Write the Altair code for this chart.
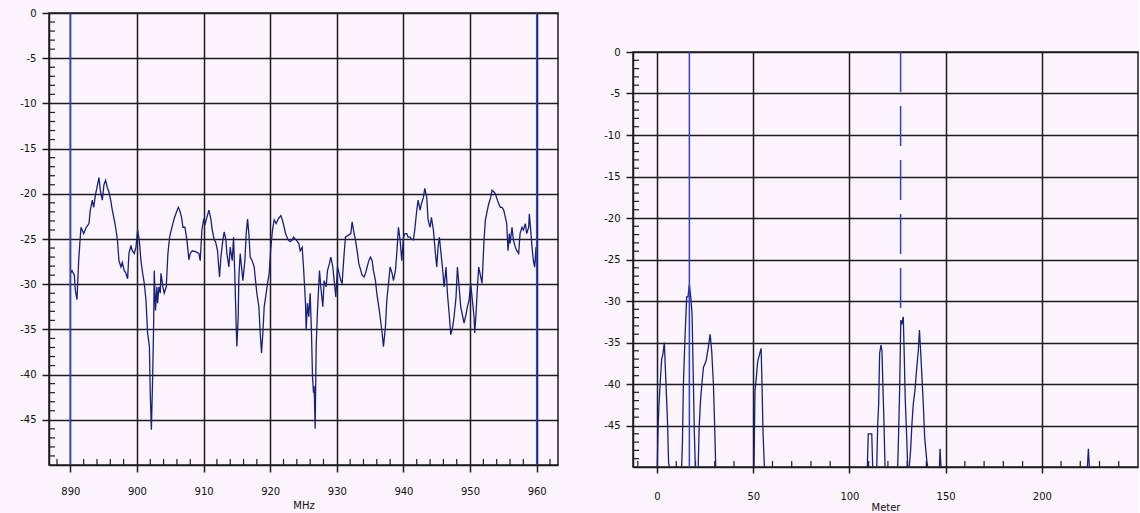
import altair as alt
import pandas as pd

# ---------------- data: left panel (MHz spectrum) ----------------
mhz = [890.0, 890.25, 890.6, 890.76, 891.0, 891.26, 891.4, 891.6, 892.0, 892.4, 892.8, 893.0, 893.3, 893.5,
       893.8, 894.0, 894.3, 894.5, 894.8, 895.05, 895.3, 895.55, 895.8, 896.06, 896.3, 896.6, 896.8, 897.07,
       897.3, 897.6, 897.8, 898.1, 898.3, 898.6, 898.8, 899.1, 899.3, 899.6, 899.85, 900.1, 900.35, 900.6,
       900.86, 901.1, 901.36, 901.6, 901.87, 902.0, 902.17, 902.37, 902.5, 902.6, 902.78, 903.0, 903.1, 903.3,
       903.5, 903.6, 903.9, 904.1, 904.4, 904.65, 904.9, 905.15, 905.4, 905.65, 906.2, 906.4, 906.7, 906.9,
       907.2, 907.5, 907.8, 908.0, 908.3, 908.8, 909.3, 909.5, 909.75, 910.0, 910.25, 910.5, 910.8, 911.1,
       911.3, 911.6, 911.8, 912.1, 912.2, 912.4, 912.6, 912.9, 913.1, 913.35, 913.5, 913.8, 914.0, 914.3,
       914.5, 914.7, 914.9, 915.0, 915.2, 915.3, 915.5, 915.7, 915.9, 916.2, 916.4, 916.6, 916.8, 917.0,
       917.3, 917.6, 917.8, 918.0, 918.3, 918.5, 918.7, 918.9, 919.1, 919.4, 919.6, 919.85, 920.1, 920.35,
       920.6, 920.9, 921.2, 921.6, 921.8, 922.1, 922.3, 922.7, 923.0, 923.3, 923.5, 923.9, 924.3, 924.5,
       924.8, 925.0, 925.3, 925.4, 925.6, 925.8, 926.0, 926.2, 926.35, 926.5, 926.6, 926.75, 926.9, 927.1,
       927.4, 927.6, 927.9, 928.1, 928.4, 928.6, 928.9, 929.1, 929.4, 929.6, 929.85, 930.1, 930.35, 930.6,
       930.8, 931.1, 931.3, 931.7, 932.1, 932.3, 932.6, 932.8, 933.1, 933.3, 933.6, 933.8, 934.1, 934.3,
       934.55, 934.8, 935.05, 935.3, 935.5, 935.8, 936.0, 936.3, 936.5, 936.8, 937.0, 937.3, 937.5, 937.8,
       938.0, 938.3, 938.5, 938.8, 939.0, 939.25, 939.5, 939.75, 940.0, 940.25, 940.5, 940.7, 941.0, 941.2,
       941.5, 941.7, 942.0, 942.2, 942.5, 942.7, 943.0, 943.2, 943.5, 943.7, 944.0, 944.2, 944.5, 944.75,
       945.0, 945.2, 945.4, 945.6, 945.9, 946.1, 946.4, 946.6, 946.9, 947.1, 947.4, 947.6, 947.9, 948.1,
       948.4, 948.6, 948.9, 949.1, 949.4, 949.6, 949.85, 950.1, 950.35, 950.6, 950.7, 950.9, 951.1, 951.3,
       951.6, 951.8, 952.1, 952.3, 952.6, 952.8, 953.1, 953.3, 953.6, 953.8, 954.1, 954.3, 954.55, 954.8,
       955.05, 955.3, 955.5, 955.7, 955.9, 956.0, 956.3, 956.5, 956.8, 957.0, 957.3, 957.5, 957.8, 958.0,
       958.3, 958.5, 958.8, 958.9, 959.1, 959.3, 959.5, 959.7, 959.9, 960.0]
mhz_db = [-28.8, -28.5, -29.0, -30.7, -31.7, -27.3, -25.8, -23.7, -24.4, -23.7, -23.3, -21.8, -20.7, -21.5,
          -20.0, -19.3, -18.2, -19.6, -20.7, -19.0, -18.5, -19.3, -19.8, -20.7, -21.8, -22.9, -23.7, -25.1,
          -27.4, -28.1, -27.6, -28.5, -28.7, -29.4, -26.6, -25.7, -26.3, -26.6, -25.9, -24.0, -25.1, -27.4,
          -28.8, -29.9, -31.8, -35.4, -36.9, -42.1, -46.1, -39.9, -34.7, -28.5, -32.9, -30.3, -32.1, -30.3,
          -31.0, -28.8, -30.3, -31.0, -30.3, -26.6, -24.8, -24.0, -23.3, -22.6, -21.5, -21.8, -22.6, -23.7,
          -23.7, -25.1, -27.3, -26.6, -26.3, -26.4, -26.6, -27.4, -24.0, -22.9, -23.3, -22.6, -21.8, -22.8,
          -24.0, -25.1, -25.3, -26.3, -27.4, -29.2, -27.0, -25.1, -24.2, -25.1, -26.6, -28.1, -25.9, -27.4,
          -24.8, -29.2, -34.7, -36.9, -33.6, -29.2, -26.6, -28.1, -29.6, -27.4, -24.4, -22.8, -24.4, -27.0,
          -27.4, -28.1, -29.6, -31.0, -32.5, -35.4, -37.6, -35.4, -32.5, -31.0, -29.9, -28.8, -25.9, -24.0,
          -22.9, -23.3, -22.8, -22.4, -22.8, -23.7, -24.4, -25.1, -25.3, -25.1, -24.8, -25.1, -25.5, -26.3,
          -25.9, -28.1, -32.1, -35.1, -32.1, -33.6, -31.0, -35.4, -40.2, -42.0, -41.3, -46.0, -36.9, -32.9,
          -28.5, -30.3, -32.5, -29.6, -30.3, -28.5, -27.7, -27.0, -28.1, -29.6, -31.4, -28.1, -28.8, -29.6,
          -29.9, -26.6, -24.8, -24.6, -24.4, -23.1, -24.4, -25.1, -26.6, -27.7, -28.5, -29.0, -29.2, -28.8,
          -28.1, -27.4, -27.0, -27.4, -28.5, -29.6, -31.0, -32.5, -33.6, -35.4, -36.9, -34.7, -31.8, -29.6,
          -28.1, -28.8, -29.6, -28.5, -26.6, -23.7, -25.1, -27.4, -24.8, -24.4, -24.4, -24.8, -24.8, -25.0,
          -25.1, -24.0, -21.8, -20.7, -21.8, -21.1, -20.4, -19.4, -20.4, -22.9, -23.7, -22.6, -24.0, -26.2,
          -28.1, -25.9, -24.8, -26.3, -28.5, -30.3, -28.1, -31.0, -33.6, -35.6, -34.7, -33.6, -31.4, -28.1,
          -30.7, -32.5, -33.6, -34.3, -33.3, -32.5, -31.8, -29.9, -31.8, -33.6, -35.4, -33.3, -30.3, -28.1,
          -29.2, -29.9, -25.1, -22.9, -21.8, -21.1, -20.4, -19.6, -19.8, -20.0, -20.7, -21.1, -21.5, -21.5,
          -21.8, -22.6, -23.3, -26.3, -24.4, -25.5, -23.7, -25.1, -25.9, -26.3, -26.6, -24.4, -23.7, -24.0,
          -23.3, -24.4, -23.7, -22.2, -24.0, -25.9, -27.4, -28.1, -25.9, -28.0]
mhz_markers = [890, 960]
mhz_labels = [890, 900, 910, 920, 930, 940, 950, 960]

# ---------------- data: right panel (distance plot) ----------------
meter_seg = ([1] * 12 + [2] * 12 + [3] * 12 + [4] * 9 + [5] * 4 + [6] * 9 + [7] * 10 + [8] * 14 + [9] * 3 + [10] * 3)
meter = [0.1, 0.5, 1.0, 1.6, 2.4, 3.0, 3.8, 4.3, 5.0, 5.5, 6.0, 6.4,
         12.8, 13.2, 13.7, 14.6, 15.4, 16.1, 16.8, 17.5, 18.2, 18.9, 19.4, 19.9,
         21.4, 21.9, 22.6, 23.3, 24.1, 25.5, 26.7, 27.6, 28.4, 29.3, 30.0, 30.5,
         50.4, 50.9, 51.5, 52.3, 53.2, 54.1, 54.6, 55.1, 55.8,
         109.3, 109.8, 111.6, 112.1,
         114.2, 114.7, 115.2, 115.7, 116.4, 116.9, 117.5, 118.0, 118.5,
         125.1, 125.6, 126.1, 126.7, 127.3, 128.0, 128.5, 129.0, 129.7, 130.3,
         131.1, 131.8, 132.5, 133.2, 134.1, 134.9, 135.8, 136.4, 137.0, 137.7, 138.4, 139.1, 140.2, 140.7,
         146.8, 147.1, 147.6,
         223.7, 224.2, 224.7]
meter_db = [-50, -45.5, -42.5, -40, -37, -36.5, -35, -38, -42, -45, -49.5, -50,
            -50, -47, -40, -34, -29.5, -29.5, -28, -29.5, -31.5, -40, -46, -50,
            -50, -45.2, -42, -40, -38, -37.2, -35.5, -34, -36, -40, -45.5, -50,
            -50, -40.8, -39.5, -37.3, -36.5, -35.7, -40.4, -46, -50,
            -50, -46, -46, -50,
            -50, -44.9, -42.4, -36.3, -35.3, -36, -41, -45, -50,
            -50, -45.5, -40.7, -32.3, -32.7, -31.9, -36.6, -41.8, -46, -50,
            -50, -48, -44.8, -42.4, -40.7, -38.3, -36, -33.5, -36, -39.2, -42.4, -46.4, -49.2, -50,
            -50, -47.8, -50,
            -50, -47.8, -50]
meter_solid_marker = [16.8]
meter_dashed_marker = [126.6]
meter_dashed_top = [0]
meter_dashed_bottom = [-31]
meter_labels = [0, 50, 100, 150, 200]

db_labels = [0, -5, -10, -15, -20, -25, -30, -35, -40, -45]

# ---------------- styling ----------------
BG = "#fcf4fc"
GRID = "#1c1c1c"
TRACE = "#18207f"
MARK = "#2b40dc"
FONT = "DejaVu Sans"

LW, LH = 509, 452
RW, RH = 505, 415
SPACER = 32

minor_db = [v for v in range(-49, 0) if v % 5 != 0]
minor_mhz = [v for v in range(888, 964, 2) if v % 10 != 0]
minor_m = [v for v in range(-10, 250, 10) if v % 50 != 0]


def yaxis():
    return alt.Axis(values=db_labels, grid=True, title=None, tickSize=7, labelPadding=6,
                    minExtent=44, maxExtent=44, labelExpr="'' + datum.value")


# ---------------- left panel ----------------
left_df = pd.DataFrame({"f": mhz, "db": mhz_db})
lx = alt.Scale(domain=[886.8, 963.2], nice=False, zero=False)
ly = alt.Scale(domain=[-50, 0], nice=False)

left_trace = alt.Chart(left_df).mark_line(color=TRACE, strokeWidth=1.3).encode(
    x=alt.X("f:Q", scale=lx,
            axis=alt.Axis(values=mhz_labels, grid=True, title="MHz", tickSize=7, labelPadding=14,
                          titlePadding=4, labelFlush=False, format="d")),
    y=alt.Y("db:Q", scale=ly, axis=yaxis()),
)
left_minor_x = alt.Chart(pd.DataFrame({"f": minor_mhz})).mark_rule(color=GRID, strokeWidth=1.2).encode(
    x=alt.X("f:Q", scale=lx), y=alt.value(LH), y2=alt.value(LH - 6))
left_minor_y = alt.Chart(pd.DataFrame({"db": minor_db})).mark_rule(color=GRID, strokeWidth=1.2).encode(
    y=alt.Y("db:Q", scale=ly), x=alt.value(0), x2=alt.value(6))
left_marks = alt.Chart(pd.DataFrame({"f": mhz_markers})).mark_rule(color=MARK, strokeWidth=1.5).encode(
    x=alt.X("f:Q", scale=lx), y=alt.value(0), y2=alt.value(LH))

left = alt.layer(left_minor_x, left_minor_y, left_trace, left_marks).properties(width=LW, height=LH)

# ---------------- right panel ----------------
right_df = pd.DataFrame({"m": meter, "db": meter_db, "seg": meter_seg})
rx = alt.Scale(domain=[-12.5, 250], nice=False, zero=False)
ry = alt.Scale(domain=[-50, 0], nice=False)

right_trace = alt.Chart(right_df).mark_line(color=TRACE, strokeWidth=1.3).encode(
    x=alt.X("m:Q", scale=rx,
            axis=alt.Axis(values=meter_labels, grid=True, title="Meter", tickSize=6, labelPadding=18,
                          titlePadding=1, labelFlush=False, format="d")),
    y=alt.Y("db:Q", scale=ry, axis=yaxis()),
    detail="seg:N",
)
right_minor_x = alt.Chart(pd.DataFrame({"m": minor_m})).mark_rule(color=GRID, strokeWidth=1.2).encode(
    x=alt.X("m:Q", scale=rx), y=alt.value(RH), y2=alt.value(RH - 6))
right_minor_y = alt.Chart(pd.DataFrame({"db": minor_db})).mark_rule(color=GRID, strokeWidth=1.2).encode(
    y=alt.Y("db:Q", scale=ry), x=alt.value(0), x2=alt.value(6))
right_solid = alt.Chart(pd.DataFrame({"m": meter_solid_marker})).mark_rule(color=MARK, strokeWidth=1.5).encode(
    x=alt.X("m:Q", scale=rx), y=alt.value(0), y2=alt.value(RH))
right_dashed = alt.Chart(pd.DataFrame({"m": meter_dashed_marker, "top": meter_dashed_top,
                                       "bot": meter_dashed_bottom})).mark_rule(
    color=MARK, strokeWidth=1.5, strokeDash=[40, 14]).encode(
    x=alt.X("m:Q", scale=rx), y=alt.Y("top:Q", scale=ry), y2="bot:Q")

right = alt.layer(right_minor_x, right_minor_y, right_trace, right_solid, right_dashed).properties(
    width=RW, height=RH)

spacer = alt.Chart(pd.DataFrame({"s": [0]})).mark_rule(opacity=0).encode(
    x=alt.value(0), x2=alt.value(1), y=alt.value(0)
).properties(width=RW, height=SPACER, view=alt.ViewBackground(stroke="transparent", fill="transparent"))

right_col = alt.vconcat(spacer, right, spacing=0)

chart = alt.hconcat(left, right_col, spacing=29).properties(
    background=BG,
    padding={"left": 4, "top": 7, "right": 0, "bottom": 0},
).configure_view(
    stroke=GRID, strokeWidth=1.5, fill=BG,
).configure_axis(
    domainColor=GRID, domainWidth=1.5, tickColor=GRID, tickWidth=1.5,
    gridColor=GRID, gridWidth=1.5, gridOpacity=1,
    labelFont=FONT, labelFontSize=10, labelColor="#111",
    titleFont=FONT, titleFontSize=10, titleFontWeight="normal", titleColor="#111",
)

chart.save("out.html", embed_options={"renderer": "svg", "actions": False})
